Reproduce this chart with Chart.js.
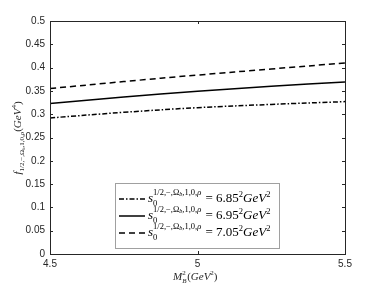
<!DOCTYPE html>
<html>
<head>
<meta charset="utf-8">
<script src="https://cdn.jsdelivr.net/npm/chart.js@4"></script>
<style>
  html, body { margin: 0; padding: 0; background: #fff; }
  #wrap { width: 382px; height: 286px; }
</style>
</head>
<body>
<div id="wrap"><canvas id="chart" width="382" height="286"></canvas></div>
<script>
// datos
const mB2 = [4.5, 4.75, 5, 5.25, 5.5];
const f685 = [0.292, 0.304, 0.314, 0.321, 0.327];
const f695 = [0.323, 0.337, 0.349, 0.360, 0.369];
const f705 = [0.355, 0.370, 0.384, 0.397, 0.410];
const s0Labels = ['6.85', '6.95', '7.05'];
const yTicks = [0, 0.05, 0.1, 0.15, 0.2, 0.25, 0.3, 0.35, 0.4, 0.45, 0.5];
const xTicks = [4.5, 5, 5.5];

const axisColor = '#262626';
const dashStyles = [[5, 2, 1.5, 2], [], [6, 4]];

function toPoints(ys) {
    return mB2.map((x, i) => ({ x: x, y: ys[i] }));
}

const SERIF = '"Liberation Serif", "DejaVu Serif", serif';

// texto con sub/superindices: segmentos {t, s, dy, it}
function richWidth(ctx, segs) {
    let w = 0;
    segs.forEach(sg => {
        ctx.font = (sg.it ? 'italic ' : '') + sg.s + 'px ' + SERIF;
        w += ctx.measureText(sg.t).width;
    });
    return w;
}
function drawRich(ctx, segs, x, y) {
    segs.forEach(sg => {
        ctx.font = (sg.it ? 'italic ' : '') + sg.s + 'px ' + SERIF;
        ctx.fillText(sg.t, x, y + (sg.dy || 0));
        x += ctx.measureText(sg.t).width;
    });
    return x;
}

const framePlugin = {
    id: 'frame',
    afterDraw(chart) {
        const ctx = chart.ctx;
        const a = chart.chartArea;
        const xs = chart.scales.x, ys = chart.scales.y;
        ctx.save();
        ctx.strokeStyle = axisColor;
        ctx.lineWidth = 1;
        ctx.setLineDash([]);
        // caja
        ctx.strokeRect(Math.round(a.left) + 0.5, Math.round(a.top) + 0.5,
            Math.round(a.right - a.left), Math.round(a.bottom - a.top));
        // ticks hacia dentro
        ctx.beginPath();
        yTicks.forEach(v => {
            const py = Math.round(ys.getPixelForValue(v)) + 0.5;
            ctx.moveTo(a.left, py); ctx.lineTo(a.left + 3, py);
            ctx.moveTo(a.right, py); ctx.lineTo(a.right - 3, py);
        });
        xTicks.forEach(v => {
            const px = Math.round(xs.getPixelForValue(v)) + 0.5;
            ctx.moveTo(px, a.bottom); ctx.lineTo(px, a.bottom - 3);
            ctx.moveTo(px, a.top); ctx.lineTo(px, a.top + 3);
        });
        ctx.stroke();

        // leyenda
        const lx = 115, ly = 183, lw = 164, lh = 65;
        ctx.fillStyle = '#fff';
        ctx.fillRect(lx, ly, lw, lh);
        ctx.strokeStyle = '#a0a0a0';
        ctx.strokeRect(lx + 0.5, ly + 0.5, lw, lh);
        ctx.fillStyle = '#000';
        ctx.textBaseline = 'alphabetic';
        ctx.textAlign = 'left';
        s0Labels.forEach((lab, i) => {
            const cy = ly + 16 + i * 17;
            ctx.strokeStyle = '#000';
            ctx.lineWidth = 1.5;
            ctx.setLineDash(dashStyles[i]);
            ctx.beginPath();
            ctx.moveTo(lx + 4, cy); ctx.lineTo(lx + 30, cy);
            ctx.stroke();
            ctx.setLineDash([]);
            const base = cy + 3;
            const x = lx + 33;
            ctx.font = 'italic 13px ' + SERIF;
            ctx.fillText('s', x, base);
            const sw = ctx.measureText('s').width;
            ctx.font = '8.5px ' + SERIF;
            ctx.fillText('0', x + sw, base + 4);
            let x2 = drawRich(ctx, [
                { t: '1/2,\u2212,\u03A9', s: 8.5 },
                { t: 'b', s: 6, dy: 1, it: true },
                { t: ',1,0,', s: 8.5 },
                { t: '\u03C1', s: 8.5, it: true }
            ], x + sw, base - 7);
            x2 = drawRich(ctx, [{ t: ' = ' + lab, s: 13 }], x2 + 1, base);
            x2 = drawRich(ctx, [{ t: '2', s: 8.5, dy: -5 }], x2, base);
            x2 = drawRich(ctx, [{ t: 'GeV', s: 13, it: true }], x2, base);
            drawRich(ctx, [{ t: '2', s: 8.5, dy: -5 }], x2, base);
        });

        // titulo eje x
        ctx.fillStyle = '#262626';
        const tx = 173, tyb = 280;
        ctx.font = 'italic 11px ' + SERIF;
        ctx.fillText('M', tx, tyb);
        const mw = ctx.measureText('M').width;
        ctx.font = '7px ' + SERIF;
        ctx.fillText('2', tx + mw, tyb - 5);
        ctx.font = 'italic 7px ' + SERIF;
        ctx.fillText('B', tx + mw, tyb + 3);
        drawRich(ctx, [
            { t: '(', s: 11 }, { t: 'GeV', s: 11, it: true },
            { t: '2', s: 7, dy: -5 }, { t: ')', s: 11 }
        ], tx + mw + 5, tyb);

        // titulo eje y (rotado)
        ctx.translate(21, 138);
        ctx.rotate(-Math.PI / 2);
        const ysegs = [
            { t: 'f', s: 11, it: true },
            { t: '1/2,\u2212,\u03A9', s: 7, dy: 3 },
            { t: 'b', s: 5, dy: 4, it: true },
            { t: ',1,0,', s: 7, dy: 3 },
            { t: '\u03C1', s: 7, dy: 3, it: true },
            { t: '(', s: 11 },
            { t: 'GeV', s: 11, it: true },
            { t: '4', s: 7, dy: -5 },
            { t: ')', s: 11 }
        ];
        const yw = richWidth(ctx, ysegs);
        drawRich(ctx, ysegs, -yw / 2, 0);
        ctx.restore();
    }
};

const datasets = [f685, f695, f705].map((d, i) => ({
    label: s0Labels[i],
    data: toPoints(d),
    borderColor: '#000',
    borderWidth: 1.5,
    borderDash: dashStyles[i],
    pointRadius: 0,
    tension: 0.4,
    fill: false
}));

new Chart(document.getElementById('chart'), {
    type: 'line',
    data: { datasets: datasets },
    options: {
        responsive: false,
        animation: false,
        layout: { padding: { top: 21, right: 37, left: 0, bottom: 0 } },
        plugins: { legend: { display: false }, tooltip: { enabled: false } },
        scales: {
            x: {
                type: 'linear',
                min: 4.5, max: 5.5,
                afterBuildTicks: s => { s.ticks = xTicks.map(v => ({ value: v })); },
                afterFit: s => { s.height = 32; },
                grid: { display: false, drawTicks: false },
                border: { display: false },
                ticks: {
                    color: axisColor,
                    padding: 4,
                    maxRotation: 0,
                    font: { family: '"Liberation Sans", Arial, sans-serif', size: 10 },
                    callback: v => String(v)
                }
            },
            y: {
                min: 0, max: 0.5,
                afterBuildTicks: s => { s.ticks = yTicks.map(v => ({ value: v })); },
                afterFit: s => { s.width = 50; },
                grid: { display: false, drawTicks: false },
                border: { display: false },
                ticks: {
                    color: axisColor,
                    padding: 5,
                    font: { family: '"Liberation Sans", Arial, sans-serif', size: 10 },
                    callback: v => String(+v.toFixed(2))
                }
            }
        }
    },
    plugins: [framePlugin]
});
</script>
</body>
</html>
